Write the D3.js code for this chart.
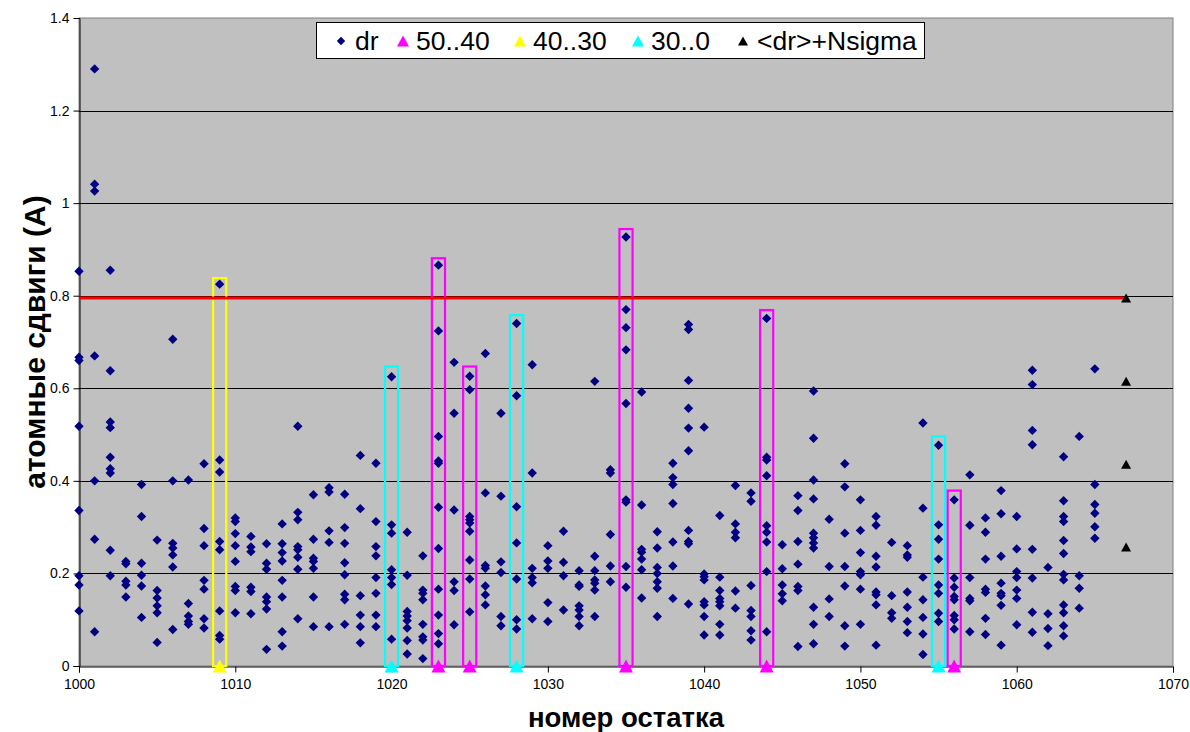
<!DOCTYPE html>
<html>
<head>
<meta charset="utf-8">
<script src="https://cdn.jsdelivr.net/npm/d3@7"></script>
<style>
  body { margin: 0; background: #ffffff; }
  svg { display: block; }
</style>
</head>
<body>
<svg id="chart" width="1190" height="732"></svg>
<script>
// Residue numbers and the atomic shifts (dr) measured for each of them
const residueIds = d3.range(1000, 1066);
const drShifts = [
  [0.853, 0.667, 0.660, 0.518, 0.336, 0.195, 0.175, 0.119],
  [1.290, 1.041, 1.026, 0.670, 0.400, 0.274, 0.074],
  [0.855, 0.638, 0.527, 0.515, 0.451, 0.426, 0.417, 0.250, 0.195],
  [0.226, 0.221, 0.183, 0.175, 0.149],
  [0.392, 0.323, 0.222, 0.196, 0.173, 0.105],
  [0.272, 0.163, 0.147, 0.130, 0.115, 0.051],
  [0.706, 0.400, 0.265, 0.255, 0.240, 0.214, 0.079],
  [0.402, 0.135, 0.108, 0.096, 0.090],
  [0.437, 0.297, 0.260, 0.185, 0.166, 0.102, 0.082],
  [0.825, 0.445, 0.419, 0.269, 0.251, 0.119, 0.066, 0.058],
  [0.320, 0.312, 0.286, 0.260, 0.226, 0.172, 0.163, 0.115],
  [0.280, 0.257, 0.247, 0.170, 0.161, 0.113],
  [0.264, 0.222, 0.209, 0.149, 0.139, 0.123, 0.036],
  [0.307, 0.264, 0.245, 0.227, 0.185, 0.149, 0.074, 0.043],
  [0.518, 0.332, 0.316, 0.258, 0.251, 0.235, 0.209, 0.102],
  [0.370, 0.274, 0.233, 0.226, 0.211, 0.149, 0.085],
  [0.385, 0.376, 0.292, 0.267, 0.085],
  [0.371, 0.299, 0.265, 0.223, 0.197, 0.155, 0.143, 0.090],
  [0.455, 0.340, 0.152, 0.110, 0.085, 0.050],
  [0.438, 0.312, 0.258, 0.238, 0.191, 0.157, 0.110, 0.085],
  [0.625, 0.305, 0.287, 0.208, 0.191, 0.176, 0.058],
  [0.289, 0.196, 0.118, 0.108, 0.098, 0.082, 0.055, 0.026],
  [0.238, 0.164, 0.157, 0.143, 0.090, 0.063, 0.056, 0.016],
  [0.866, 0.724, 0.496, 0.443, 0.438, 0.343, 0.254, 0.166, 0.110, 0.070, 0.048],
  [0.656, 0.546, 0.337, 0.182, 0.163, 0.089],
  [0.626, 0.597, 0.323, 0.316, 0.309, 0.291, 0.229, 0.188, 0.117],
  [0.675, 0.374, 0.217, 0.211, 0.173, 0.154, 0.132],
  [0.546, 0.367, 0.225, 0.202, 0.107, 0.087],
  [0.740, 0.584, 0.344, 0.266, 0.188, 0.100, 0.080],
  [0.651, 0.417, 0.211, 0.191, 0.180, 0.102],
  [0.260, 0.227, 0.211, 0.137, 0.096],
  [0.291, 0.224, 0.195, 0.121],
  [0.206, 0.175, 0.172, 0.130, 0.121, 0.107, 0.087],
  [0.615, 0.237, 0.206, 0.186, 0.179, 0.164, 0.107],
  [0.424, 0.417, 0.284, 0.216, 0.182],
  [0.927, 0.770, 0.731, 0.683, 0.567, 0.359, 0.354, 0.215, 0.170],
  [0.592, 0.348, 0.252, 0.246, 0.231, 0.208, 0.147],
  [0.290, 0.255, 0.213, 0.200, 0.182, 0.168, 0.107],
  [0.438, 0.407, 0.392, 0.351, 0.268, 0.216, 0.146],
  [0.738, 0.727, 0.617, 0.557, 0.514, 0.465, 0.293, 0.269, 0.264, 0.134],
  [0.516, 0.199, 0.193, 0.186, 0.139, 0.132, 0.107, 0.067],
  [0.325, 0.192, 0.163, 0.146, 0.139, 0.130, 0.090, 0.067],
  [0.390, 0.307, 0.289, 0.277, 0.162, 0.125],
  [0.374, 0.356, 0.174, 0.120, 0.107, 0.076, 0.056],
  [0.751, 0.451, 0.445, 0.411, 0.303, 0.289, 0.268, 0.204, 0.074],
  [0.262, 0.210, 0.175, 0.156, 0.141],
  [0.368, 0.336, 0.269, 0.220, 0.172, 0.163, 0.042],
  [0.594, 0.492, 0.402, 0.361, 0.287, 0.277, 0.266, 0.255, 0.127, 0.090, 0.048],
  [0.317, 0.215, 0.145, 0.107],
  [0.437, 0.387, 0.287, 0.215, 0.173, 0.087, 0.043],
  [0.359, 0.293, 0.245, 0.204, 0.197, 0.166, 0.090],
  [0.323, 0.304, 0.237, 0.214, 0.160, 0.154, 0.132, 0.045],
  [0.267, 0.152, 0.115, 0.103],
  [0.260, 0.240, 0.235, 0.160, 0.127, 0.096, 0.072],
  [0.525, 0.341, 0.192, 0.143, 0.105, 0.069, 0.025],
  [0.477, 0.305, 0.274, 0.231, 0.175, 0.157, 0.114, 0.096],
  [0.359, 0.190, 0.170, 0.150, 0.143, 0.109, 0.100, 0.080],
  [0.413, 0.304, 0.191, 0.146, 0.141, 0.074],
  [0.320, 0.289, 0.231, 0.166, 0.159, 0.103, 0.068],
  [0.379, 0.329, 0.237, 0.179, 0.157, 0.152, 0.131, 0.045],
  [0.323, 0.253, 0.204, 0.191, 0.164, 0.146, 0.089],
  [0.639, 0.608, 0.509, 0.478, 0.252, 0.190, 0.116, 0.073],
  [0.213, 0.113, 0.081, 0.044],
  [0.452, 0.357, 0.323, 0.312, 0.271, 0.243, 0.198, 0.186, 0.132, 0.115, 0.087, 0.065],
  [0.496, 0.195, 0.168, 0.125],
  [0.642, 0.392, 0.349, 0.330, 0.301, 0.276]
];

// <dr>+N*sigma levels, plotted at the residue after the last one
const nsigmaResidue = 1067;
const nsigmaLevels = [0.795, 0.615, 0.436, 0.257];

// Highlighted residues by range, with the top of each frame
const range5040Residues = [1023, 1025, 1035, 1044, 1056];
const range5040Tops = [0.881, 0.647, 0.944, 0.769, 0.379];
const range4030Residues = [1009];
const range4030Tops = [0.838];
const range300Residues = [1020, 1028, 1055];
const range300Tops = [0.647, 0.758, 0.496];

// Axis settings
const xDomain = [1000, 1070];
const yDomain = [0, 1.4];
const xTicks = [1000, 1010, 1020, 1030, 1040, 1050, 1060, 1070];
const yTicks = [0, 0.2, 0.4, 0.6, 0.8, 1, 1.2, 1.4];
const yTickLabels = ["0", "0.2", "0.4", "0.6", "0.8", "1", "1.2", "1.4"];
const xTitle = "номер остатка";
const yTitle = "атомные сдвиги (А)";

const legendLabels = ["dr", "50..40", "40..30", "30..0", "<dr>+Nsigma"];
const colors = { dr: "#000080", r5040: "#FF00FF", r4030: "#FFFF00", r300: "#00FFFF", nsigma: "#000000", line: "#FF0000" };

const plot = { left: 79, right: 1173, top: 18, bottom: 666 };
const font = "Liberation Sans, Arial, Helvetica, sans-serif";

const svg = d3.select("#chart");
const x = d3.scaleLinear().domain(xDomain).range([plot.left, plot.right]);
const y = d3.scaleLinear().domain(yDomain).range([plot.bottom, plot.top]);

// Plot background
svg.append("rect")
  .attr("x", plot.left).attr("y", plot.top)
  .attr("width", plot.right - plot.left).attr("height", plot.bottom - plot.top)
  .attr("fill", "#C0C0C0").attr("stroke", "#808080").attr("stroke-width", 1);

// Horizontal gridlines
svg.append("g").selectAll("line").data(yTicks.filter(d => d > 0 && d < 1.4)).join("line")
  .attr("x1", plot.left).attr("x2", plot.right)
  .attr("y1", d => Math.round(y(d)) + 0.5).attr("y2", d => Math.round(y(d)) + 0.5)
  .attr("stroke", "#000").attr("stroke-width", 1);

// Axes
const yAxis = d3.axisLeft(y).tickValues(yTicks).tickSize(6).tickPadding(4)
  .tickFormat((d, i) => yTickLabels[i]);
const gy = svg.append("g").attr("transform", `translate(${plot.left + 0.5},0)`).call(yAxis);
const xAxis = d3.axisBottom(x).tickValues(xTicks).tickSize(6).tickPadding(7)
  .tickFormat(d3.format("d"));
const gx = svg.append("g").attr("transform", `translate(0,${plot.bottom + 0.5})`).call(xAxis);
[gx, gy].forEach(g => {
  g.select(".domain").attr("stroke", "#000");
  g.selectAll(".tick line").attr("stroke", "#000");
  g.selectAll("text").attr("font-family", font).attr("font-size", 14).attr("fill", "#000");
});
gy.selectAll(".tick").filter(d => d === 1.4).select("line").remove();

// Marker shapes
const diamond = s => `M0,${-s}L${s},0L0,${s}L${-s},0Z`;
const triangle = (w, h) => `M0,${-h / 2}L${w / 2},${h / 2}L${-w / 2},${h / 2}Z`;

// Frames around highlighted residues
const halfWidth = 0.42;
function drawRange(residues, tops, color) {
  svg.append("g").selectAll("rect").data(residues).join("rect")
    .attr("x", d => x(d - halfWidth))
    .attr("width", d => x(d + halfWidth) - x(d - halfWidth))
    .attr("y", (d, i) => y(tops[i]))
    .attr("height", (d, i) => y(0) - y(tops[i]))
    .attr("fill", "none").attr("stroke", color).attr("stroke-width", 2.2);
}
const frames = [
  [range5040Residues, range5040Tops, colors.r5040],
  [range4030Residues, range4030Tops, colors.r4030],
  [range300Residues, range300Tops, colors.r300]
];
frames.forEach(f => drawRange(...f));

// Threshold line at the first <dr>+Nsigma level
svg.append("line")
  .attr("x1", x(xDomain[0])).attr("x2", x(nsigmaResidue))
  .attr("y1", y(nsigmaLevels[0])).attr("y2", y(nsigmaLevels[0]))
  .attr("stroke", colors.line).attr("stroke-width", 3);

// dr points
const drPoints = residueIds.flatMap((r, i) => drShifts[i].map(v => ({ r, v })));
svg.append("g").selectAll("path").data(drPoints).join("path")
  .attr("transform", d => `translate(${x(d.r)},${y(d.v)})`)
  .attr("d", diamond(4.7))
  .attr("fill", colors.dr);

// Triangles on the axis for the highlighted residues
frames.forEach(([res, , color]) => {
  svg.append("g").selectAll("path").data(res).join("path")
    .attr("transform", d => `translate(${x(d)},${y(0)})`)
    .attr("d", triangle(14, 13))
    .attr("fill", color);
});

// <dr>+Nsigma markers
svg.append("g").selectAll("path").data(nsigmaLevels).join("path")
  .attr("transform", d => `translate(${x(nsigmaResidue)},${y(d)})`)
  .attr("d", triangle(10, 9))
  .attr("fill", colors.nsigma);

// Legend
const legend = svg.append("g");
legend.append("rect").attr("x", 316.5).attr("y", 22.5).attr("width", 608).attr("height", 36)
  .attr("fill", "#fff").attr("stroke", "#000").attr("stroke-width", 1);
const legendItems = [
  { label: legendLabels[0], mx: 341, tx: 355, shape: diamond(4.2), color: colors.dr },
  { label: legendLabels[1], mx: 403, tx: 416, shape: triangle(12, 11), color: colors.r5040 },
  { label: legendLabels[2], mx: 520, tx: 533, shape: triangle(12, 11), color: colors.r4030 },
  { label: legendLabels[3], mx: 638, tx: 651, shape: triangle(12, 11), color: colors.r300 },
  { label: legendLabels[4], mx: 743, tx: 757, shape: triangle(10, 9), color: colors.nsigma }
];
legendItems.forEach(it => {
  legend.append("path").attr("transform", `translate(${it.mx},41)`).attr("d", it.shape).attr("fill", it.color);
  legend.append("text").attr("x", it.tx).attr("y", 50).text(it.label)
    .attr("font-family", font).attr("font-size", 26.5).attr("fill", "#000");
});

// Axis titles
svg.append("text").attr("x", (plot.left + plot.right) / 2).attr("y", 727)
  .attr("text-anchor", "middle").attr("font-family", font).attr("font-weight", "bold")
  .attr("font-size", 27.5).text(xTitle);
svg.append("text")
  .attr("transform", `translate(45,${(plot.top + plot.bottom) / 2}) rotate(-90)`)
  .attr("text-anchor", "middle").attr("font-family", font).attr("font-weight", "bold")
  .attr("font-size", 30).text(yTitle);
</script>
</body>
</html>
